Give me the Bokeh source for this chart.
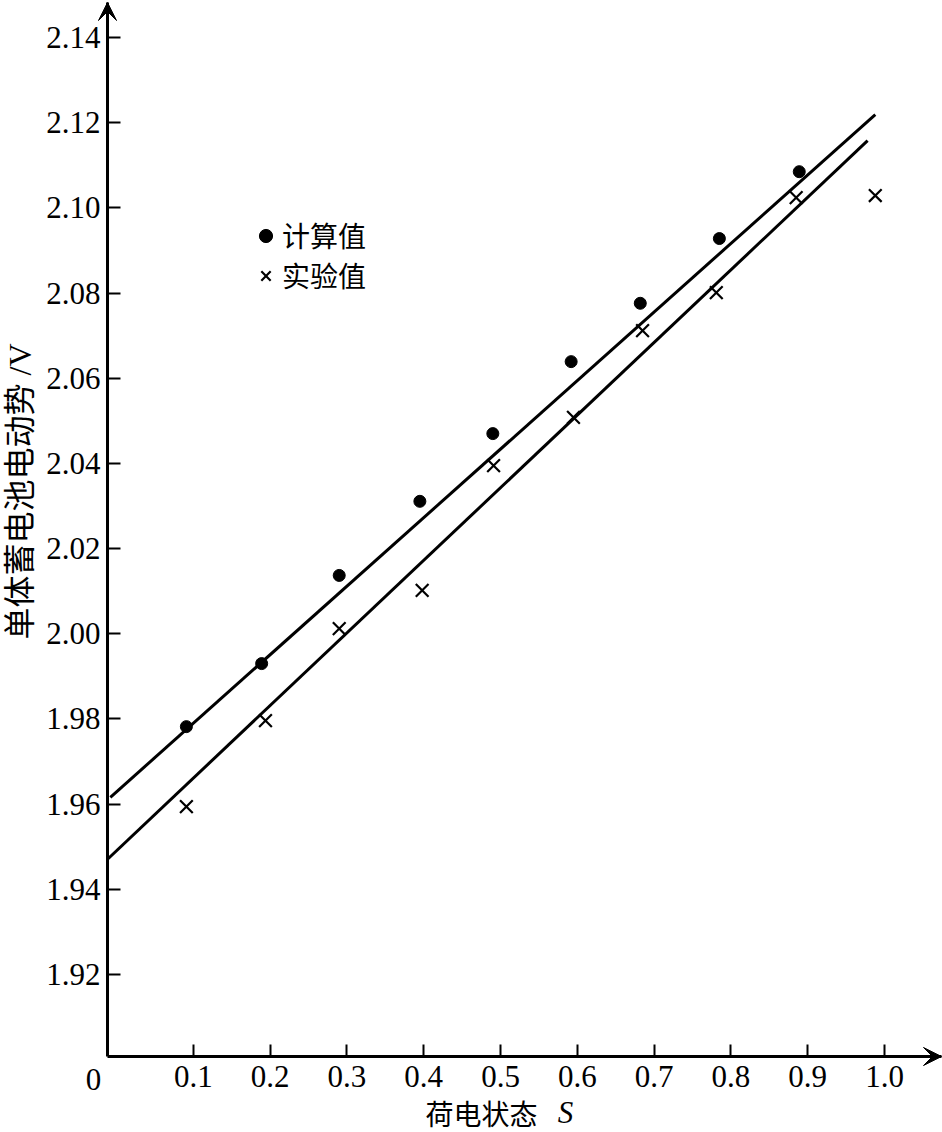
import math
from bokeh.plotting import figure
from bokeh.models import (Range1d, FixedTicker, Label, Arrow, VeeHead, Legend,
                          LegendItem)
from bokeh.embed import file_html
from bokeh.resources import INLINE

# ---- data ----
calc_s = [0.091, 0.189, 0.290, 0.395, 0.490, 0.592, 0.682, 0.785, 0.889]
calc_v = [1.9782, 1.9930, 2.0137, 2.0311, 2.0470, 2.0639, 2.0776, 2.0928, 2.1085]
exp_s = [0.091, 0.194, 0.290, 0.398, 0.491, 0.595, 0.685, 0.781, 0.885, 0.988]
exp_v = [1.9594, 1.9796, 2.0012, 2.0102, 2.0395, 2.0508, 2.0712, 2.0801, 2.1024, 2.1029]
fit_calc_s = [-0.008, 0.988]
fit_calc_v = [1.9616, 2.1219]
fit_exp_s = [-0.012, 0.978]
fit_exp_v = [1.9470, 2.1158]
x_ticks = [0.1, 0.2, 0.3, 0.4, 0.5, 0.6, 0.7, 0.8, 0.9, 1.0]
y_ticks = [1.92, 1.94, 1.96, 1.98, 2.00, 2.02, 2.04, 2.06, 2.08, 2.10, 2.12, 2.14]
legend_labels = ["计算值", "实验值"]
origin_label = "0"
x_title_cjk = "荷电状态"
x_title_sym = "S"
y_title = "单体蓄电池电动势 /V"

# ---- layout: the plot frame covers the whole canvas ----
W, H = 942, 1132
PX_X = 768.0      # pixels per unit of S
PX_Y = 4259.0     # pixels per volt
X0 = -116 / PX_X              # canvas left edge
X1 = X0 + W / PX_X            # canvas right edge
Y1 = 1.92 + 974 / PX_Y        # canvas top edge
Y0 = Y1 - H / PX_Y            # canvas bottom edge
XA = X0 + 107 / PX_X          # where the vertical axis stands
YA = Y1 - 1056 / PX_Y         # where the horizontal axis lies
X_TIP = X0 + 941 / PX_X       # arrow tips
Y_TIP = Y1 - 2 / PX_Y


def px_x(px):
    return X0 + px / PX_X


def px_y(py):
    return Y1 - py / PX_Y


SERIF = "Liberation Serif"
CJK = "Noto Sans CJK SC"

p = figure(width=W, height=H, x_range=Range1d(X0, X1), y_range=Range1d(Y0, Y1),
           output_backend="svg", toolbar_location=None,
           min_border_left=0, min_border_right=0, min_border_top=0,
           min_border_bottom=0)
p.outline_line_color = None
p.xgrid.visible = False
p.ygrid.visible = False
p.background_fill_color = "white"
p.border_fill_color = "white"

for ax in (p.xaxis[0], p.yaxis[0]):
    ax.axis_line_width = 3
    ax.axis_line_color = "black"
    ax.major_tick_line_width = 2
    ax.major_tick_line_color = "black"
    ax.major_tick_out = 0
    ax.minor_tick_in = 0
    ax.minor_tick_out = 0
    ax.major_label_text_font = SERIF
    ax.major_label_text_font_size = "31px"
    ax.major_label_text_color = "black"

p.xaxis.fixed_location = YA
p.xaxis.bounds = (XA, X_TIP)
p.xaxis.ticker = FixedTicker(ticks=x_ticks)
p.xaxis.major_label_overrides = {t: f"{t:.1f}" for t in x_ticks}
p.xaxis.major_tick_in = 12
p.xaxis.major_label_standoff = 9

p.yaxis.fixed_location = XA
p.yaxis.bounds = (YA, Y_TIP)
p.yaxis.ticker = FixedTicker(ticks=y_ticks)
p.yaxis.major_label_overrides = {t: f"{t:.2f}" for t in y_ticks}
p.yaxis.major_tick_in = 13
p.yaxis.major_label_standoff = 7

# fitted lines
p.line(fit_calc_s, fit_calc_v, line_width=3, color="black")
p.line(fit_exp_s, fit_exp_v, line_width=3, color="black")

r_calc = p.scatter(calc_s, calc_v, marker="circle", size=12, color="black")
r_exp = p.scatter(exp_s, exp_v, marker="x", size=18, line_width=2.2, color="black")

legend = Legend(items=[LegendItem(label=legend_labels[0], renderers=[r_calc]),
                       LegendItem(label=legend_labels[1], renderers=[r_exp])],
                location=(249, 837), label_text_font=CJK, label_text_font_size="28px",
                label_text_color="black",
                background_fill_alpha=0, border_line_color=None, padding=0,
                spacing=-1, glyph_width=33, glyph_height=33, label_standoff=0,
                margin=0)
p.add_layout(legend)

# axis arrows
p.add_layout(Arrow(end=VeeHead(size=18, fill_color="black", line_color="black"),
                   x_start=XA, y_start=2.10, x_end=XA, y_end=Y_TIP,
                   line_width=3, line_color="black"))
p.add_layout(Arrow(end=VeeHead(size=18, fill_color="black", line_color="black"),
                   x_start=0.9, y_start=YA, x_end=X_TIP, y_end=YA,
                   line_width=3, line_color="black"))

# origin label and axis titles
p.add_layout(Label(x=px_x(93), y=px_y(1079), text=origin_label, text_font=SERIF,
                   text_color="black",
                   text_font_size="31px", text_align="center", text_baseline="middle"))
p.add_layout(Label(x=px_x(481), y=px_y(1112), text=x_title_cjk, text_font=CJK,
                   text_color="black",
                   text_font_size="28px", text_align="center", text_baseline="middle"))
p.add_layout(Label(x=px_x(565), y=px_y(1112), text=x_title_sym, text_font=SERIF,
                   text_color="black",
                   text_font_style="italic", text_font_size="31px",
                   text_align="center", text_baseline="middle"))
p.add_layout(Label(x=px_x(19), y=px_y(491), text=y_title,
                   text_font=SERIF + ", " + CJK, text_color="black",
                   text_font_size="32px", angle=math.pi / 2,
                   text_align="center", text_baseline="middle"))

open("out.html", "w").write(file_html(p, INLINE))
